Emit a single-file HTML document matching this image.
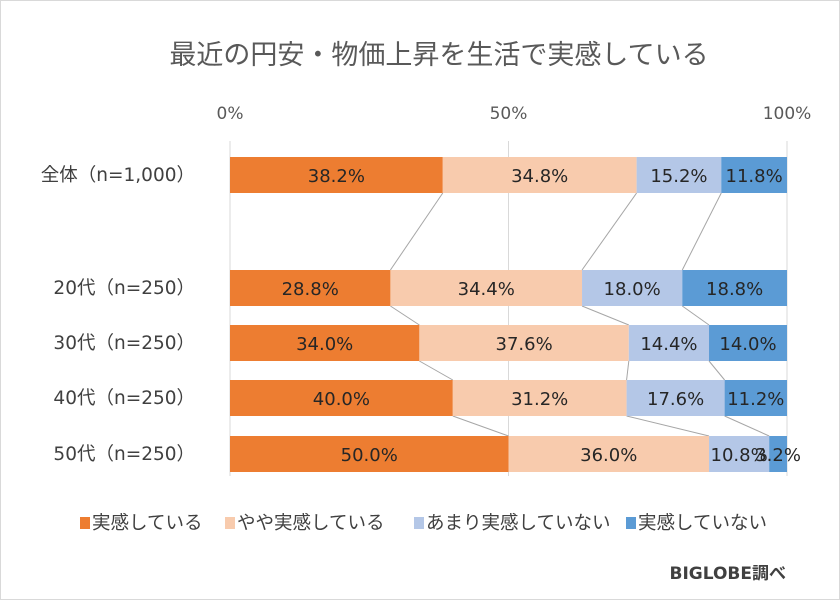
<!DOCTYPE html>
<html><head><meta charset="utf-8"><style>
body{margin:0;background:#fff;}
#c{position:relative;width:838px;height:598px;border:1px solid #d9d9d9;overflow:hidden;font-family:"Noto Sans CJK JP","Liberation Sans",sans-serif;}
svg text{font-family:"DejaVu Sans","Noto Sans CJK JP",sans-serif;}
</style></head><body>
<div id="c">
<svg id="s" width="838" height="598"></svg>
</div>
<script>
const categories=["全体（n=1,000）","20代（n=250）","30代（n=250）","40代（n=250）","50代（n=250）"];
const seriesNames=["実感している","やや実感している","あまり実感していない","実感していない"];
const s1=[38.2,28.8,34.0,40.0,50.0];
const s2=[34.8,34.4,37.6,31.2,36.0];
const s3=[15.2,18.0,14.4,17.6,10.8];
const s4=[11.8,18.8,14.0,11.2,3.2];
const ticks=[0,50,100];
const colors=["#ED7D31","#F8CBAD","#B4C7E7","#5B9BD5"];
const series=[s1,s2,s3,s4];
const rowY=[156,269,324,379,435];
const barH=36;
const x0=229,x1=786;
const xs=v=>x0+(x1-x0)*v/100;
const svg=document.getElementById('s');
const NS="http://www.w3.org/2000/svg";
function mk(t,a){const e=document.createElementNS(NS,t);for(const k in a)e.setAttribute(k,a[k]);svg.appendChild(e);return e;}
let t=mk('text',{x:438,y:63,'text-anchor':'middle','font-size':27,fill:'#595959'});t.textContent="最近の円安・物価上昇を生活で実感している";


ticks.forEach(v=>{
 const l=mk('line',{x1:xs(v),x2:xs(v),y1:140,y2:475,stroke:'#d9d9d9','stroke-width':1});
 
 
 const tx=mk('text',{x:xs(v),y:118,'text-anchor':'middle','font-size':17,fill:'#595959'});tx.textContent=v+"%";
 
 
});
for(let i=0;i<categories.length-1;i++){
 let c1=0,c2=0;
 for(let k=0;k<3;k++){
  c1+=series[k][i];c2+=series[k][i+1];
  const l=mk('line',{x1:xs(c1),y1:rowY[i]+barH,x2:xs(c2),y2:rowY[i+1],stroke:'#a6a6a6','stroke-width':1});
  
  
 }
}
categories.forEach((c,i)=>{
 const lb=mk('text',{x:194,y:rowY[i]+barH/2+6,'text-anchor':'end','font-size':18.5,fill:'#404040'});lb.textContent=c;
 
 
 let cum=0;
 series.forEach((sr,k)=>{
  const v=sr[i];
  const r=mk('rect',{x:xs(cum),y:rowY[i],width:xs(cum+v)-xs(cum),height:barH,fill:colors[k]});
  
  
  const tx=mk('text',{x:(xs(cum)+xs(cum+v))/2,y:rowY[i]+barH/2+7,'text-anchor':'middle','font-size':18,fill:'#262626'});
  tx.textContent=v.toFixed(1)+"%";
  
  
  cum+=v;
 });
});
const lx=[79,224,413,625];
seriesNames.forEach((n,k)=>{
 const r=mk('rect',{x:lx[k],y:516,width:10,height:12,fill:colors[k]});
 
 
 const tx=mk('text',{x:lx[k]+12,y:528,'font-size':18.5,fill:'#404040'});tx.textContent=n;
 
 
});
const b=mk('text',{x:785,y:578,'text-anchor':'end','font-size':17,'font-weight':'bold',fill:'#404040'});b.textContent="BIGLOBE調べ";


</script>
</body></html>
